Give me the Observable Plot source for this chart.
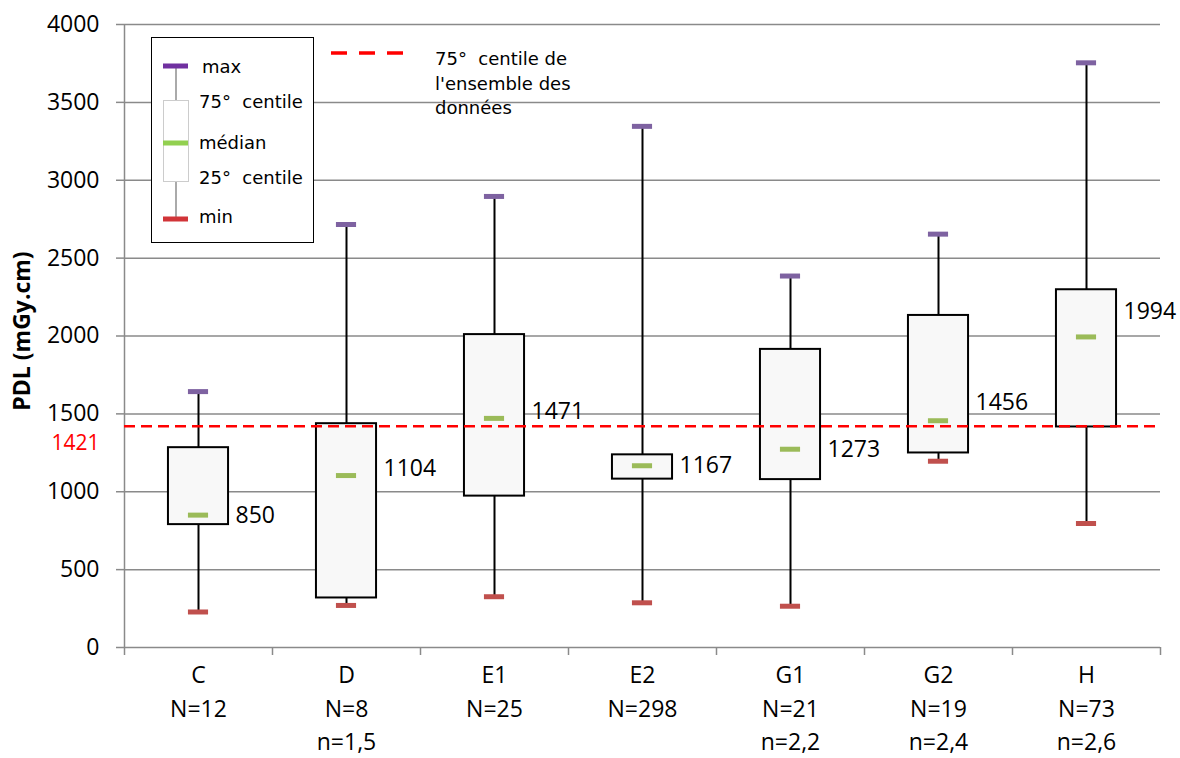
<!DOCTYPE html>
<html><head><meta charset="utf-8">
<script src="https://cdn.jsdelivr.net/npm/d3@7"></script>
<script src="https://cdn.jsdelivr.net/npm/@observablehq/plot@0.6"></script>
<style>
body{margin:0;background:#fff}
#wrap{position:relative;width:1180px;height:758px}
#legend{position:absolute;left:0;top:0;pointer-events:none}
</style>
</head><body><div id="wrap"></div>
<script>
// ---- data ----
const categories = ["C", "D", "E1", "E2", "G1", "G2", "H"];
const nLabel = ["N=12", "N=8", "N=25", "N=298", "N=21", "N=19", "N=73"];
const nSub = ["", "n=1,5", "", "", "n=2,2", "n=2,4", "n=2,6"];
const minV = [228, 270, 326, 287, 265, 1196, 796];
const q1 = [789, 318, 972, 1081, 1078, 1249, 1416];
const median = [850, 1104, 1471, 1167, 1273, 1456, 1994];
const q3 = [1283, 1437, 2009, 1237, 1914, 2132, 2297];
const maxV = [1643, 2716, 2896, 3346, 2385, 2654, 3754];
const overallP75 = 1421;
const yTicks = [0, 500, 1000, 1500, 2000, 2500, 3000, 3500, 4000];
const legendItems = ["max", "75°\u00a0 centile", "médian", "25°\u00a0 centile", "min"];
const refLegendLines = ["75°\u00a0 centile de", "l'ensemble des", "données"];

// ---- build ----
const rows = categories.map((c, i) => ({
  i, c, min: minV[i], q1: q1[i], med: median[i], q3: q3[i], max: maxV[i], n1: nLabel[i], n2: nSub[i]
}));
const capHalf = 0.068, boxHalf = 0.203;
const labelDy = [1, -7, -7, 0, 0, -18, -25];
const grid = "#8a8a8a";
const font = "'Open Sans', sans-serif";
const fs = 23;

const marks = [
  Plot.gridY(yTicks.filter(v => v > 0), {stroke: grid, strokeOpacity: 1, strokeWidth: 1.5}),
  Plot.axisY(yTicks, {tickSize: 8, tickPadding: 17, tickFormat: d => String(d), stroke: grid, strokeWidth: 1.5, fill: "#000", fontSize: fs, label: null}),
  Plot.ruleX([-0.5], {stroke: grid, strokeWidth: 1.5}),
  Plot.ruleY([0], {stroke: grid, strokeWidth: 1.5}),
  Plot.axisX(d3.range(-0.5, categories.length, 1), {tickSize: 8, tickFormat: () => "", stroke: grid, strokeWidth: 1.5, label: null}),
  Plot.ruleX(rows, {x: "i", y1: "min", y2: "max", stroke: "#000", strokeWidth: 2}),
  Plot.rect(rows, {x1: d => d.i - boxHalf, x2: d => d.i + boxHalf, y1: "q1", y2: "q3", fill: "#f8f8f8", stroke: "#000", strokeWidth: 2}),
  Plot.ruleY(rows, {y: "max", x1: d => d.i - capHalf, x2: d => d.i + capHalf, stroke: "#7e62a1", strokeWidth: 5}),
  Plot.ruleY(rows, {y: "min", x1: d => d.i - capHalf, x2: d => d.i + capHalf, stroke: "#c0504d", strokeWidth: 5}),
  Plot.ruleY(rows, {y: "med", x1: d => d.i - capHalf, x2: d => d.i + capHalf, stroke: "#9bbb59", strokeWidth: 5}),
  ...rows.map((r, k) => Plot.text([r], {x: "i", y: "med", text: d => String(d.med), dx: 37, dy: labelDy[k], textAnchor: "start", fontSize: fs, fill: "#000"})),
  Plot.ruleY([overallP75], {stroke: "#ff0000", strokeWidth: 2.5, strokeDasharray: "11,6"}),
  Plot.text([overallP75], {y: d => d, text: d => String(d), frameAnchor: "left", dx: -25, dy: 17, textAnchor: "end", fill: "#ff0000", fontSize: 21}),
  Plot.text(rows, {x: "i", text: "c", frameAnchor: "bottom", dy: 35, fontSize: fs, fill: "#000"}),
  Plot.text(rows, {x: "i", text: "n1", frameAnchor: "bottom", dy: 69, fontSize: fs, fill: "#000"}),
  Plot.text(rows, {x: "i", text: "n2", frameAnchor: "bottom", dy: 102, fontSize: fs, fill: "#000"}),
  Plot.text(["PDL (mGy.cm)"], {frameAnchor: "left", dx: -102, dy: -5, rotate: -90, textAnchor: "middle", fontWeight: "bold", fontSize: 23, fill: "#000"})
];

const chart = Plot.plot({
  width: 1180, height: 758,
  marginLeft: 124, marginRight: 20, marginTop: 24, marginBottom: 111,
  x: {domain: [-0.5, categories.length - 0.5]},
  y: {domain: [0, 4000]},
  style: {fontFamily: font, fontSize: fs + "px", color: "#000", background: "#fff", overflow: "visible"},
  marks
});
const wrap = document.getElementById("wrap");
wrap.appendChild(chart);

// ---- legend overlay ----
const lf = "DejaVu Sans, sans-serif";
const ys = [72.7, 107.7, 149, 184, 223];
let s = `<svg id="legend" width="1180" height="758" xmlns="http://www.w3.org/2000/svg">
<rect x="151.5" y="37.5" width="162" height="205" fill="#fff" stroke="#000" stroke-width="1"/>
<line x1="176" x2="176" y1="66" y2="219" stroke="#aaa" stroke-width="2"/>
<rect x="163.5" y="100.5" width="25" height="81" fill="#fff" stroke="#ccc" stroke-width="1"/>
<rect x="163" y="63.5" width="25" height="5" fill="#7030a0"/>
<rect x="163" y="140.5" width="25" height="5" fill="#92d050"/>
<rect x="163" y="216.5" width="25" height="5" fill="#d13438"/>`;
legendItems.forEach((t, k) => {
  s += `<text x="${k === 0 ? 202 : 199}" y="${ys[k]}" font-family="${lf}" font-size="18" fill="#000">${t}</text>`;
});
s += `<line x1="331" x2="404" y1="53" y2="53" stroke="#ff0000" stroke-width="3.5" stroke-dasharray="16,12"/>`;
[65, 90, 114].forEach((y, k) => {
  s += `<text x="435" y="${y}" font-family="${lf}" font-size="18" fill="#000">${refLegendLines[k]}</text>`;
});
s += `</svg>`;
wrap.insertAdjacentHTML("beforeend", s);
</script>
</body></html>
